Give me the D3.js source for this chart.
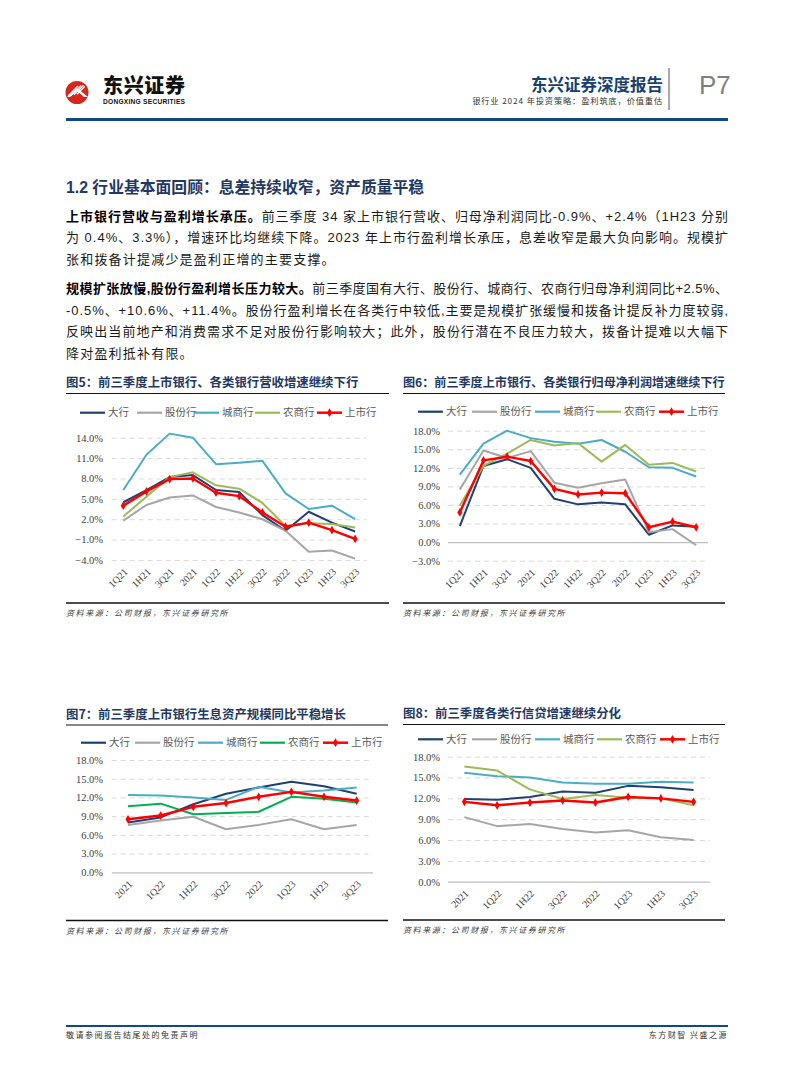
<!DOCTYPE html>
<html>
<head>
<meta charset="utf-8">
<script src="https://cdn.jsdelivr.net/npm/d3@7"></script>
<style>
  body { margin: 0; background: #fff; }
  svg { display: block; }
</style>
</head>
<body>
<div id="page"></div>
<script>
// ---- data ----
const seriesNames = ["大行", "股份行", "城商行", "农商行", "上市行"];

// 图5 / 图6 categories
const quarters11 = ["1Q21", "1H21", "3Q21", "2021", "1Q22", "1H22", "3Q22", "2022", "1Q23", "1H23", "3Q23"];
// 图7 / 图8 categories
const quarters8 = ["2021", "1Q22", "1H22", "3Q22", "2022", "1Q23", "1H23", "3Q23"];

// 图5 营收增速 (%)
const revBig      = [4.5, 6.3, 8.2, 8.5, 6.3, 6.0, 2.6, 0.3, 3.1, 1.5, 0.2];
const revJoint    = [1.8, 4.1, 5.2, 5.5, 3.8, 3.0, 2.0, 0.3, -2.8, -2.6, -3.8];
const revCity     = [6.3, 11.5, 14.6, 14.0, 10.1, 10.3, 10.6, 5.8, 3.5, 4.0, 2.0];
const revRural    = [2.4, 5.3, 8.2, 8.9, 7.0, 6.5, 4.4, 1.0, 1.4, 1.3, 0.8];
const revListed   = [4.0, 6.1, 7.9, 8.0, 5.9, 5.4, 3.0, 0.9, 1.5, 0.4, -0.9];
const revTicks    = [-4, -1, 2, 5, 8, 11, 14];

// 图6 归母净利润增速 (%)
const npBig       = [2.6, 12.3, 13.4, 12.0, 7.0, 6.1, 6.4, 6.1, 1.2, 2.7, 2.5];
const npJoint     = [8.5, 14.8, 13.6, 14.7, 9.6, 8.8, 9.5, 10.1, 1.6, 2.1, -0.5];
const npCity      = [10.9, 15.9, 18.0, 16.8, 16.2, 15.9, 16.5, 14.6, 12.1, 12.0, 10.6];
const npRural     = [5.9, 12.3, 14.3, 16.5, 15.6, 16.0, 13.0, 15.7, 12.5, 12.8, 11.4];
const npListed    = [4.8, 13.2, 13.8, 13.1, 8.6, 7.7, 8.0, 7.9, 2.4, 3.3, 2.4];
const npTicks     = [-3, 0, 3, 6, 9, 12, 15, 18];

// 图7 生息资产增速 (%)
const iaBig       = [8.0, 8.8, 10.9, 12.6, 13.6, 14.5, 13.8, 12.6];
const iaJoint     = [7.6, 8.3, 8.9, 6.9, 7.6, 8.5, 6.9, 7.6];
const iaCity      = [12.4, 12.3, 12.0, 11.6, 13.7, 12.8, 13.1, 13.6];
const iaRural     = [10.6, 11.0, 9.3, 9.5, 9.7, 12.1, 11.8, 11.2];
const iaListed    = [8.5, 9.1, 10.5, 11.1, 12.1, 12.9, 12.1, 11.5];

// 图8 信贷增速 (%)
const lnBig       = [11.9, 11.8, 12.2, 13.0, 12.8, 13.8, 13.6, 13.2];
const lnJoint     = [9.3, 8.0, 8.3, 7.6, 7.1, 7.4, 6.4, 6.0];
const lnCity      = [15.7, 15.2, 15.0, 14.3, 14.1, 14.1, 14.4, 14.3];
const lnRural     = [16.6, 16.0, 13.3, 11.9, 12.5, 12.1, 12.0, 11.0];
const lnListed    = [11.5, 11.0, 11.4, 11.7, 11.4, 12.2, 12.0, 11.5];
const pctTicks    = [0, 3, 6, 9, 12, 15, 18];

// ---- page setup ----
const W = 794, H = 1077;
const SANS = '"Liberation Sans","Noto Sans CJK SC",sans-serif';
const CJK = '"Noto Sans CJK SC",sans-serif';
const SERIF = '"Liberation Serif","Noto Sans CJK SC",serif';
const navyTitle = "#1F3864";

const svg = d3.select("#page").append("svg")
    .attr("width", W)
    .attr("height", H)
    .style("background", "#fff");

// ---- header ----
const logo = svg.append("g");
logo.append("circle").attr("cx", 77).attr("cy", 92.5).attr("r", 11.5).attr("fill", "#D7261E");
logo.append("clipPath").attr("id", "logoClip")
    .append("circle").attr("cx", 77).attr("cy", 92.5).attr("r", 10);
const stripes = logo.append("g").attr("clip-path", "url(#logoClip)");
[0, 3, 6, 9].forEach(o => {
    stripes.append("line")
        .attr("x1", 68 + o).attr("y1", 96 - o * 0.2)
        .attr("x2", 78 + o).attr("y2", 86 - o * 0.2)
        .attr("stroke", "#fff").attr("stroke-width", 1.3);
});
logo.append("path")
    .attr("d", "M67,97 L77,88 L88,97 L84,97 L77,91 L70,97 Z")
    .attr("fill", "#fff");
logo.append("text")
    .attr("x", 103).attr("y", 93)
    .attr("font-family", CJK).attr("font-weight", 900)
    .attr("font-size", 20).attr("textLength", 82)
    .attr("fill", "#111")
    .text("东兴证券");
logo.append("text")
    .attr("x", 103).attr("y", 104)
    .attr("font-family", SANS).attr("font-weight", 700)
    .attr("font-size", 6.6).attr("textLength", 82)
    .attr("fill", "#111")
    .text("DONGXING SECURITIES");

svg.append("text")
    .attr("x", 663).attr("y", 91)
    .attr("text-anchor", "end")
    .attr("font-family", CJK).attr("font-weight", 700)
    .attr("font-size", 16.5)
    .attr("fill", "#17406D")
    .text("东兴证券深度报告");
svg.append("text")
    .attr("x", 663).attr("y", 104)
    .attr("text-anchor", "end")
    .attr("font-family", CJK)
    .attr("font-size", 8.2)
    .attr("letter-spacing", 0.9)
    .attr("fill", "#333")
    .text("银行业 2024 年投资策略：盈利筑底，价值重估");
svg.append("line")
    .attr("x1", 669).attr("x2", 669).attr("y1", 68).attr("y2", 110)
    .attr("stroke", "#8C8C8C").attr("stroke-width", 1.5);
svg.append("text")
    .attr("x", 699).attr("y", 94)
    .attr("font-family", SANS)
    .attr("font-size", 26)
    .attr("fill", "#7F7F7F")
    .text("P7");
svg.append("line")
    .attr("x1", 66).attr("x2", 728).attr("y1", 119.5).attr("y2", 119.5)
    .attr("stroke", "#0E4A84").attr("stroke-width", 3);

// ---- section heading & paragraphs ----
svg.append("text")
    .attr("x", 66).attr("y", 193)
    .attr("font-family", SANS).attr("font-weight", 700)
    .attr("font-size", 15.8)
    .attr("fill", navyTitle)
    .text("1.2 行业基本面回顾：息差持续收窄，资产质量平稳");

const paraLines = [
    { y: 220.5, bold: "上市银行营收与盈利增长承压。", text: "前三季度 34 家上市银行营收、归母净利润同比-0.9%、+2.4%（1H23 分别", justify: true },
    { y: 242, bold: "", text: "为 0.4%、3.3%），增速环比均继续下降。2023 年上市行盈利增长承压，息差收窄是最大负向影响。规模扩", justify: true },
    { y: 263.5, bold: "", text: "张和拨备计提减少是盈利正增的主要支撑。", justify: false },
    { y: 293, bold: "规模扩张放慢,股份行盈利增长压力较大。", text: "前三季度国有大行、股份行、城商行、农商行归母净利润同比+2.5%、", justify: true },
    { y: 314.5, bold: "", text: "-0.5%、+10.6%、+11.4%。股份行盈利增长在各类行中较低,主要是规模扩张缓慢和拨备计提反补力度较弱,", justify: true },
    { y: 336, bold: "", text: "反映出当前地产和消费需求不足对股份行影响较大；此外，股份行潜在不良压力较大，拨备计提难以大幅下", justify: true },
    { y: 357.5, bold: "", text: "降对盈利抵补有限。", justify: false }
];
paraLines.forEach(l => {
    const t = svg.append("text")
        .attr("x", 66).attr("y", l.y)
        .attr("font-family", SANS)
        .attr("font-size", 13)
        .attr("fill", "#1a1a1a");
    if (l.justify) t.attr("textLength", 662).attr("lengthAdjust", "spacing");
    else t.attr("letter-spacing", 1.2);
    if (l.bold) t.append("tspan").attr("font-weight", 700).attr("fill", "#000").text(l.bold);
    t.append("tspan").text(l.text);
});

// ---- charts ----
const colors = {
    big: "#203F73",
    joint: "#A6A6A6",
    city: "#4BACC6",
    rural: "#9BBB59",
    ruralGreen: "#00B050",
    listed: "#FF0000"
};

function drawChart(cfg) {
    const g = svg.append("g");

    // title + rules
    g.append("text")
        .attr("x", cfg.left).attr("y", cfg.titleY)
        .attr("font-family", CJK).attr("font-weight", 700)
        .attr("font-size", cfg.titleSize)
        .attr("fill", navyTitle)
        .text(cfg.title);
    g.append("line")
        .attr("x1", cfg.left).attr("x2", cfg.right)
        .attr("y1", cfg.titleY + 6.5).attr("y2", cfg.titleY + 6.5)
        .attr("stroke", "#111").attr("stroke-width", 1.2);
    g.append("line")
        .attr("x1", cfg.left).attr("x2", cfg.right)
        .attr("y1", cfg.bottomRule).attr("y2", cfg.bottomRule)
        .attr("stroke", "#111").attr("stroke-width", 1.4);
    g.append("text")
        .attr("x", cfg.left).attr("y", cfg.bottomRule + 13)
        .attr("font-family", CJK)
        .attr("font-size", 8)
        .attr("font-style", "italic")
        .attr("letter-spacing", 1.6)
        .attr("fill", "#404040")
        .text("资料来源：公司财报，东兴证券研究所");

    // scales
    const x = d3.scalePoint()
        .domain(cfg.cats)
        .range([cfg.gx0, cfg.gx1])
        .padding(0.5);
    const y = d3.scaleLinear()
        .domain([cfg.ticks[0], cfg.ticks[cfg.ticks.length - 1]])
        .range([cfg.gyBottom, cfg.gyTop]);

    // y axis with gridlines
    const yAxis = g.append("g")
        .attr("transform", `translate(${cfg.gx0},0)`)
        .call(d3.axisLeft(y)
            .tickValues(cfg.ticks)
            .tickSize(-(cfg.gx1 - cfg.gx0))
            .tickPadding(cfg.gx0 - cfg.labelRight)
            .tickFormat(d => d3.format(".1f")(d) + "%"));
    yAxis.select(".domain").remove();
    yAxis.selectAll(".tick line")
        .attr("stroke", d => d === 0 ? "#BFBFBF" : "#D9D9D9")
        .attr("stroke-width", d => d === 0 ? 1.2 : 1)
        .attr("stroke-dasharray", d => d === 0 ? null : "5,4");
    yAxis.selectAll(".tick text")
        .attr("font-family", SERIF)
        .attr("font-size", 10.5)
        .attr("fill", "#404040");

    // x axis labels (rotated)
    const xAxis = g.append("g")
        .attr("transform", `translate(0,${cfg.gyBottom})`)
        .call(d3.axisBottom(x).tickSize(0));
    xAxis.select(".domain").remove();
    xAxis.selectAll(".tick text")
        .attr("font-family", SERIF)
        .attr("font-size", 10)
        .attr("fill", "#404040")
        .attr("text-anchor", "end")
        .attr("x", 0).attr("y", 0).attr("dy", "0.35em")
        .attr("transform", `translate(2,${cfg.xLabelOff}) rotate(-45)`);

    // lines
    const line = d3.line()
        .x((d, i) => x(cfg.cats[i]))
        .y(d => y(d));
    cfg.series.forEach(s => {
        g.append("path")
            .datum(s.values)
            .attr("fill", "none")
            .attr("stroke", s.color)
            .attr("stroke-width", s.marker ? 2.4 : 2.0)
            .attr("stroke-linejoin", "round")
            .attr("d", line);
        if (s.marker) {
            g.selectAll(null)
                .data(s.values)
                .enter()
                .append("path")
                .attr("transform", (d, i) => `translate(${x(cfg.cats[i])},${y(d)})`)
                .attr("d", d3.symbol(d3.symbolDiamond, 22))
                .attr("fill", s.color);
        }
    });

    // legend
    cfg.series.forEach((s, i) => {
        const lx = cfg.legendX[i];
        g.append("line")
            .attr("x1", lx).attr("x2", lx + 25)
            .attr("y1", cfg.legendY).attr("y2", cfg.legendY)
            .attr("stroke", s.color)
            .attr("stroke-width", s.marker ? 2.5 : 2.2);
        if (s.marker) {
            g.append("path")
                .attr("transform", `translate(${lx + 12.5},${cfg.legendY})`)
                .attr("d", d3.symbol(d3.symbolDiamond, 22))
                .attr("fill", s.color);
        }
        g.append("text")
            .attr("x", lx + 28).attr("y", cfg.legendY)
            .attr("dy", "0.36em")
            .attr("font-family", CJK)
            .attr("font-size", 10.5)
            .attr("fill", "#595959")
            .text(s.name);
    });
}

function makeSeries(vals, ruralColor) {
    return [
        { name: seriesNames[0], values: vals[0], color: colors.big },
        { name: seriesNames[1], values: vals[1], color: colors.joint },
        { name: seriesNames[2], values: vals[2], color: colors.city },
        { name: seriesNames[3], values: vals[3], color: ruralColor },
        { name: seriesNames[4], values: vals[4], color: colors.listed, marker: true }
    ];
}

drawChart({
    title: "图5：前三季度上市银行、各类银行营收增速继续下行",
    titleSize: 12.4, left: 66, right: 389, titleY: 387, bottomRule: 603,
    cats: quarters11, ticks: revTicks,
    gx0: 111.7, gx1: 366.7, gyTop: 437.7, gyBottom: 560, labelRight: 103, xLabelOff: 10,
    legendY: 412.7, legendX: [80, 137, 194, 255, 317],
    series: makeSeries([revBig, revJoint, revCity, revRural, revListed], colors.rural)
});

drawChart({
    title: "图6：前三季度上市银行、各类银行归母净利润增速继续下行",
    titleSize: 12.1, left: 403, right: 725, titleY: 387, bottomRule: 603,
    cats: quarters11, ticks: npTicks,
    gx0: 448, gx1: 708, gyTop: 430.7, gyBottom: 560.7, labelRight: 440, xLabelOff: 10,
    legendY: 411.7, legendX: [418, 472, 535, 596, 659],
    series: makeSeries([npBig, npJoint, npCity, npRural, npListed], colors.rural)
});

drawChart({
    title: "图7：前三季度上市银行生息资产规模同比平稳增长",
    titleSize: 12.4, left: 66, right: 388, titleY: 718.5, bottomRule: 920.5,
    cats: quarters8, ticks: pctTicks,
    gx0: 111.7, gx1: 373, gyTop: 760, gyBottom: 872.3, labelRight: 103, xLabelOff: 10,
    legendY: 742.7, legendX: [81, 135, 198, 260, 323],
    series: makeSeries([iaBig, iaJoint, iaCity, iaRural, iaListed], colors.ruralGreen)
});

drawChart({
    title: "图8：前三季度各类行信贷增速继续分化",
    titleSize: 12.4, left: 403, right: 725, titleY: 718, bottomRule: 920,
    cats: quarters8, ticks: pctTicks,
    gx0: 448, gx1: 710, gyTop: 756.7, gyBottom: 881.7, labelRight: 440, xLabelOff: 10,
    legendY: 739.3, legendX: [418, 472, 535, 597, 660],
    series: makeSeries([lnBig, lnJoint, lnCity, lnRural, lnListed], colors.rural)
});

// ---- footer ----
svg.append("line")
    .attr("x1", 66).attr("x2", 728).attr("y1", 1026).attr("y2", 1026)
    .attr("stroke", "#0E4A84").attr("stroke-width", 2);
svg.append("text")
    .attr("x", 66).attr("y", 1038)
    .attr("font-family", CJK)
    .attr("font-size", 8)
    .attr("letter-spacing", 1.5)
    .attr("fill", "#333")
    .text("敬请参阅报告结尾处的免责声明");
svg.append("text")
    .attr("x", 728).attr("y", 1038)
    .attr("text-anchor", "end")
    .attr("font-family", CJK)
    .attr("font-size", 8)
    .attr("letter-spacing", 1.5)
    .attr("fill", "#333")
    .text("东方财智 兴盛之源");
</script>
</body>
</html>
